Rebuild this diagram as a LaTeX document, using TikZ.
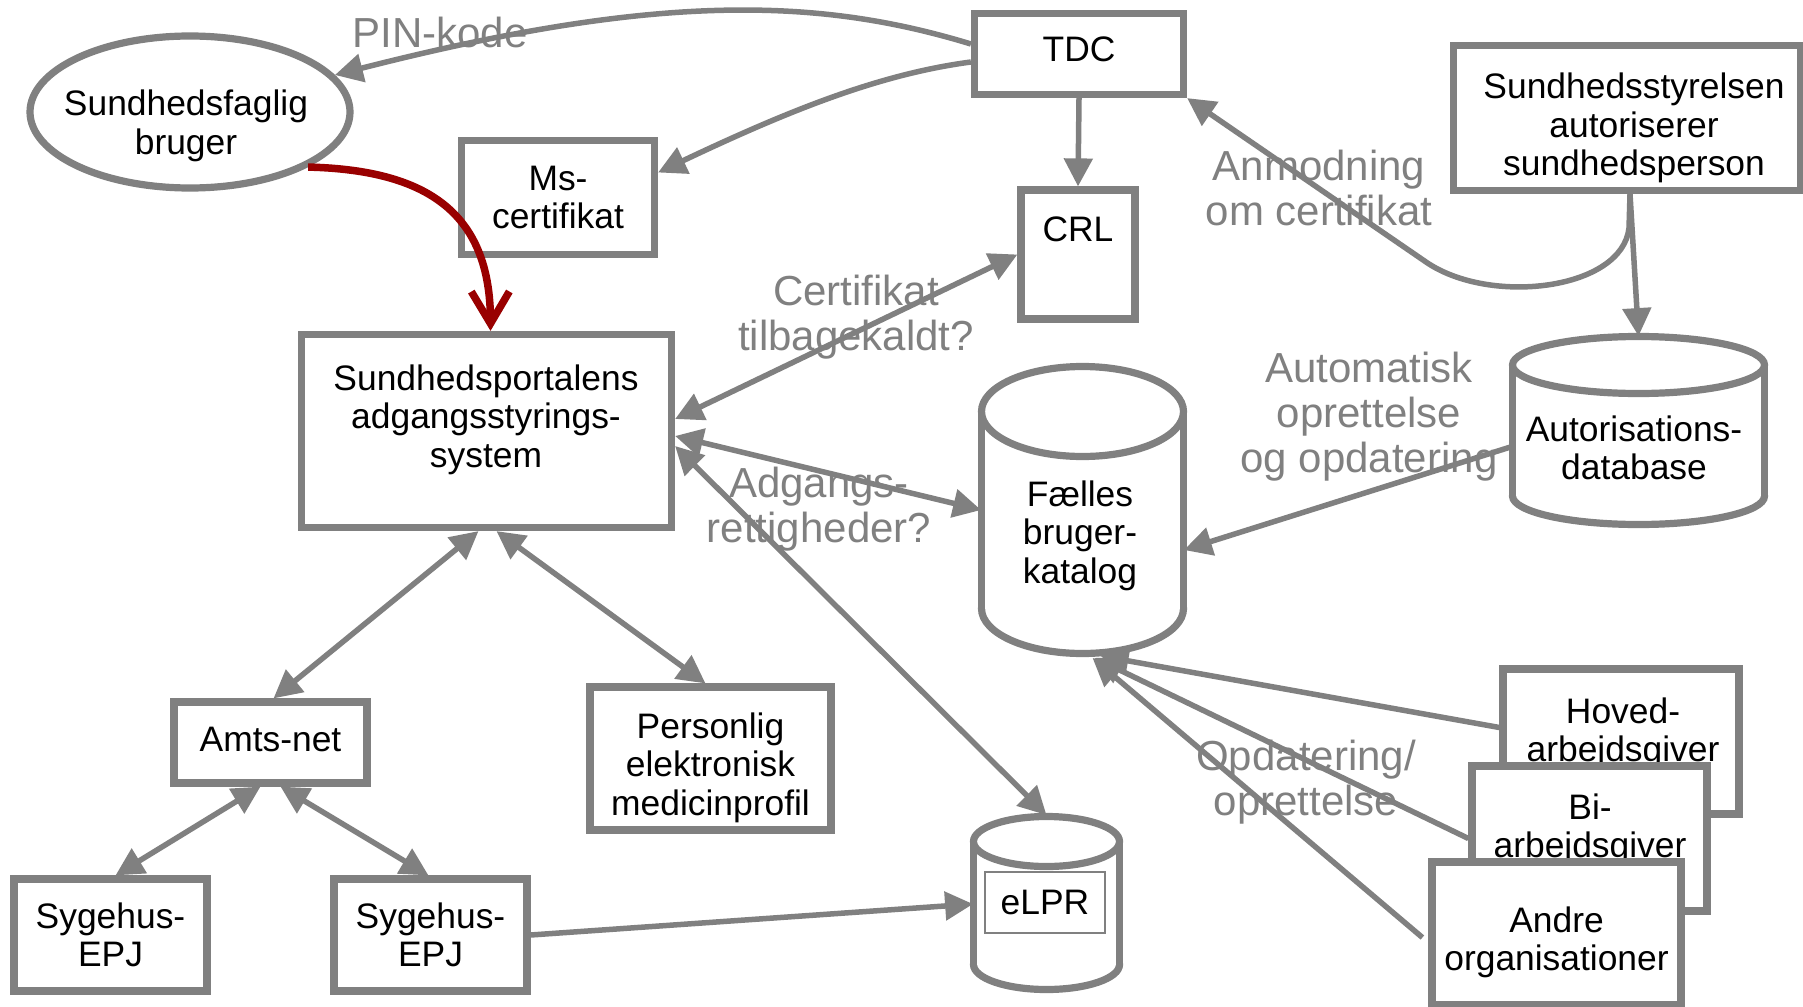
\documentclass[tikz,border=0pt]{standalone}
\usepackage{fontspec}
\setmainfont{Liberation Sans}
\usetikzlibrary{arrows.meta,shapes.geometric,calc}
\definecolor{gr}{RGB}{128,128,128}
\definecolor{dred}{RGB}{153,0,0}
\newcommand\boxfont{\fontsize{17.7pt}{19.25pt}\selectfont}
\newcommand\lblfont{\fontsize{21pt}{22.5pt}\selectfont}
\tikzset{
  box/.style={draw=gr, line width=3.6pt, fill=white, inner sep=0pt, align=center, font=\boxfont, text=black},
  txt/.style={inner sep=0pt, align=center, font=\boxfont, text=black},
  lbl/.style={inner sep=0pt, align=center, font=\lblfont, text=gr},
  ghost/.style={inner sep=0pt, draw=none},
  cylline/.style={draw=gr, line width=3.6pt},
  conn/.style={draw=gr, line width=2.75pt, -{Triangle[length=14pt,width=14pt]}},
  bconn/.style={draw=gr, line width=2.75pt, {Triangle[length=14pt,width=14pt]}-{Triangle[length=14pt,width=14pt]}},
  redconn/.style={draw=dred, line width=3.75pt, -{Straight Barb[length=16pt,width=19pt]}},
}
\begin{document}
\begin{tikzpicture}[x=0.5pt,y=-0.5pt]
\fill[white] (0,0) rectangle (1803,1006);
\useasboundingbox (0,0) rectangle (1803,1006);

% grey labels
\node[lbl] (pinlbl) at (440,32) {PIN-kode};
\node[lbl] (anmlbl) at (1319,188) {Anmodning\\om certifikat};
\node[lbl] (certlbl) at (856,317) {Certifikat\\tilbagekaldt?};
\node[lbl] (autolbl) at (1369,417) {Automatisk\\oprettelse\\og opdatering};
\node[lbl] (adglbl) at (819,509) {Adgangs-\\rettigheder?};
\node[lbl] (opdlbl) at (1306,782) {Opdatering/\\oprettelse};

% boxes
\node[box, shape=ellipse, minimum width=160pt, minimum height=76pt] (user) at (190,112) {};
\node[txt] (usertxt) at (186,126) {Sundhedsfaglig\\bruger};
\node[box, minimum width=104.5pt, minimum height=40.5pt] (tdc) at (1079,54) {};
\node[txt] (tdctxt) at (1079,49.5) {TDC};
\node[box, minimum width=96.5pt, minimum height=57pt] (ms) at (558,197.5) {Ms-\\certifikat};
\node[box, minimum width=173.5pt, minimum height=72.5pt] (sst) at (1627,118) {};
\node[txt] (ssttxt) at (1634,128) {Sundhedsstyrelsen\\autoriserer\\sundhedsperson};
\node[box, minimum width=57pt, minimum height=64.5pt] (crl) at (1078,254.5) {};
\node[txt] (crltxt) at (1078,229) {CRL};
\node[box, minimum width=185pt, minimum height=96.5pt] (portal) at (486.5,431) {};
\node[txt] (portaltxt) at (486,419.5) {Sundhedsportalens\\adgangsstyrings-\\system};
\node[box, minimum width=96.5pt, minimum height=40.5pt] (amts) at (270.5,742.5) {};
\node[txt] (amtstxt) at (270.5,739) {Amts-net};
\node[box, minimum width=120.5pt, minimum height=71.5pt] (pers) at (710.5,758.5) {};
\node[txt] (perstxt) at (710.5,767.5) {Personlig\\elektronisk\\medicinprofil};
\node[box, minimum width=96.5pt, minimum height=56pt] (syg1) at (110.5,935) {Sygehus-\\EPJ};
\node[box, minimum width=96.5pt, minimum height=56pt] (syg2) at (430.5,935) {Sygehus-\\EPJ};
\node[box, minimum width=118pt, minimum height=72.5pt] (hoved) at (1621,741.5) {};
\node[txt] (hovedtxt) at (1623,733.5) {Hoved-\\arbejdsgiver};
\node[box, minimum width=117.5pt, minimum height=72.5pt] (bi) at (1589.5,838.5) {};
\node[txt] (bitxt) at (1590,829.5) {Bi-\\arbejdsgiver};
\node[box, minimum width=124.5pt, minimum height=71.5pt] (andre) at (1556.5,933.5) {};
\node[txt] (andretxt) at (1556.5,942.5) {Andre\\organisationer};

% cylinders
% Faelles brugerkatalog
\filldraw[cylline, fill=white] (1082.5,608.5) ellipse [x radius=50.5pt, y radius=22.5pt];
\fill[white] (981.5,411.5) rectangle (1183.5,608.5);
\draw[cylline] (981.5,411.5) -- (981.5,608.5) (1183.5,411.5) -- (1183.5,608.5);
\filldraw[cylline, fill=white] (1082.5,411.5) ellipse [x radius=50.5pt, y radius=22.5pt];
\node[ghost, minimum width=101pt, minimum height=143.5pt] (faelles) at (1082.5,510) {};
\node[txt] (faellestxt) at (1080,535.5) {Fælles\\bruger-\\katalog};
% Autorisationsdatabase
\filldraw[cylline, fill=white] (1638.5,496) ellipse [x radius=63pt, y radius=14.25pt];
\fill[white] (1512.5,365) rectangle (1764.5,496);
\draw[cylline] (1512.5,365) -- (1512.5,496) (1764.5,365) -- (1764.5,496);
\filldraw[cylline, fill=white] (1638.5,365) ellipse [x radius=63pt, y radius=14.25pt];
\node[ghost, minimum width=126pt, minimum height=94pt] (autor) at (1638.5,430.5) {};
\node[txt] (autortxt) at (1634,448) {Autorisations-\\database};
% eLPR
\filldraw[cylline, fill=white] (1046.5,964.5) ellipse [x radius=36.5pt, y radius=12.5pt];
\fill[white] (973.5,841.5) rectangle (1119.5,964.5);
\draw[cylline] (973.5,841.5) -- (973.5,964.5) (1119.5,841.5) -- (1119.5,964.5);
\filldraw[cylline, fill=white] (1046.5,841.5) ellipse [x radius=36.5pt, y radius=12.5pt];
\node[ghost, minimum width=73pt, minimum height=87.5pt] (elpr) at (1046.5,903) {};
\node[txt, draw=gr, line width=0.8pt, fill=white, minimum width=60pt, minimum height=30.5pt] (elprtxt) at (1045,902.5) {eLPR};

% connectors
\draw[conn] ($(tdc.west)+(0,-10)$) .. controls (820,-2) and (660,-8) .. (user);
\draw[conn] ($(tdc.west)+(0,8)$) .. controls (880,74) and (790,110) .. ($(ms.east)+(0,-25)$);
\draw[conn] (tdc.south) -- (crl.north);
\draw[conn] ($(sst.south)+(3,0)$) -- (1629,228) .. controls (1622,290) and (1490,306) .. (1426,262) -- (tdc.south east);
\draw[conn] ($(sst.south)+(3,0)$) -- (autor.north);
\draw[bconn] ($(portal.east)+(0,-12)$) -- (crl.west);
\draw[bconn] ($(portal.east)+(0,5)$) -- (faelles.west);
\draw[bconn] ($(portal.east)+(0,15)$) -- (elpr.north);
\draw[conn] ($(autor.west)+(0,16)$) -- ($(faelles.east)+(0,40)$);
\draw[conn] ($(hoved.west)+(0,-14)$) -- ($(faelles.south)+(18,2)$);
\draw[conn] (bi.west) -- ($(faelles.south)+(12,4)$);
\draw[conn] ($(andre.west)+(-6,4)$) -- ($(faelles.south)+(10,4)$);
\draw[bconn] ($(portal.south)+(-8,0)$) -- ($(amts.north)+(3,0)$);
\draw[bconn] ($(portal.south)+(10,0)$) -- ($(pers.north)+(-5,0)$);
\draw[bconn] ($(amts.south)+(-10,0)$) -- ($(syg1.north)+(5,0)$);
\draw[bconn] ($(amts.south)+(10,0)$) -- ($(syg2.north)+(-2,0)$);
\draw[conn] (syg2.east) -- ($(elpr.west)+(0,1)$);
\draw[redconn] (user.-25) .. controls (430,170) and (490,215) .. ($(portal.north)+(4,0)$);
\end{tikzpicture}
\end{document}
